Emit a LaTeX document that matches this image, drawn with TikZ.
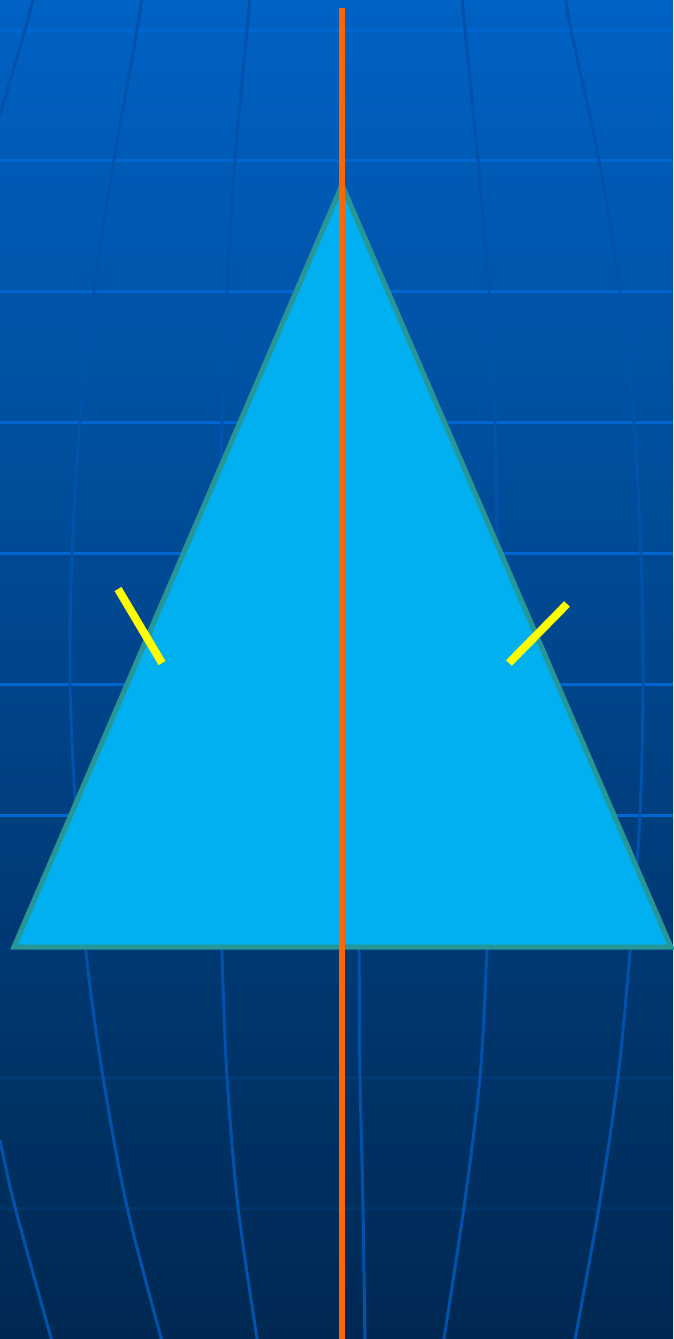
\documentclass[tikz,border=0pt]{standalone}
\definecolor{bgtop}{RGB}{0,98,196}
\definecolor{bgmid}{RGB}{0,69,139}
\definecolor{bgbot}{RGB}{0,40,82}
\definecolor{hline}{RGB}{0,102,208}
\definecolor{hlinea}{RGB}{0,58,118}
\definecolor{hlineb}{RGB}{0,52,106}
\definecolor{meridian}{RGB}{0,82,170}
\definecolor{trifill}{RGB}{0,176,240}
\definecolor{tristroke}{RGB}{38,150,150}
\definecolor{axisorange}{RGB}{255,102,0}
\definecolor{tickyellow}{RGB}{255,255,0}
\tikzset{
  gridh/.style={line width=3pt},
  merid/.style={meridian, line width=3pt},
  tri/.style={fill=trifill, draw=tristroke, line width=5pt, line join=miter},
  axisline/.style={axisorange, line width=6pt},
  tickmark/.style={tickyellow, line width=8pt}
}
\begin{document}
\begin{tikzpicture}[x=1pt,y=-1pt]
\useasboundingbox (0,0) rectangle (673,1339);
\shade[top color=bgtop, middle color=bgmid, bottom color=bgbot] (0,0) rectangle (673,1339);
% horizontal grid lines
\foreach \yy in {30,160,291,422,553,684,815}
  \draw[gridh, hline] (0,\yy) -- (673,\yy);
\draw[gridh, hlinea] (0,1077) -- (673,1077);
\draw[gridh, hlineb] (0,1208) -- (673,1208);
% meridians
\draw[merid] plot[smooth] coordinates {(34,-5) (25,30) (0,115)};
\draw[merid] plot[smooth] coordinates {(0,1140) (15,1207) (53,1345)};
\draw[merid] plot[smooth] coordinates {(142,-5) (137,30) (114,160) (94,291) (80,422) (72,553) (70,684) (76,815) (86,952) (103,1077) (127,1207) (163,1345)};
\draw[merid] plot[smooth] coordinates {(250,-5) (247,30) (235,160) (227,291) (222,422) (220,553) (219,684) (220,815) (222,952) (227,1077) (238,1207) (258,1345)};
\draw[merid] plot[smooth] coordinates {(356,800) (359,952) (360,1077) (363,1207) (365,1345)};
\draw[merid] plot[smooth] coordinates {(462,-5) (465,30) (478,160) (489,291) (495,422) (497,553) (497,684) (494,815) (487,952) (480,1077) (464,1207) (443,1345)};
\draw[merid] plot[smooth] coordinates {(565,-5) (571,30) (599,160) (620,291) (634,422) (641,553) (643,684) (640,815) (630,952) (618,1077) (599,1207) (574,1345)};
% triangle
\coordinate (apex) at (342,185);
\coordinate (bl) at (14,947);
\coordinate (br) at (671,947);
\draw[tri] (bl) -- (apex) -- (br) -- cycle;
% congruence ticks
\coordinate (t1a) at (118,589);
\coordinate (t1b) at (162,663);
\coordinate (t2a) at (567,604);
\coordinate (t2b) at (509,663);
\draw[tickmark] (t1a) -- (t1b);
\draw[tickmark] (t2a) -- (t2b);
% axis of symmetry
\coordinate (axtop) at (342,8);
\coordinate (axbot) at (342,1339);
\draw[axisline] (axtop) -- (axbot);
\end{tikzpicture}
\end{document}
